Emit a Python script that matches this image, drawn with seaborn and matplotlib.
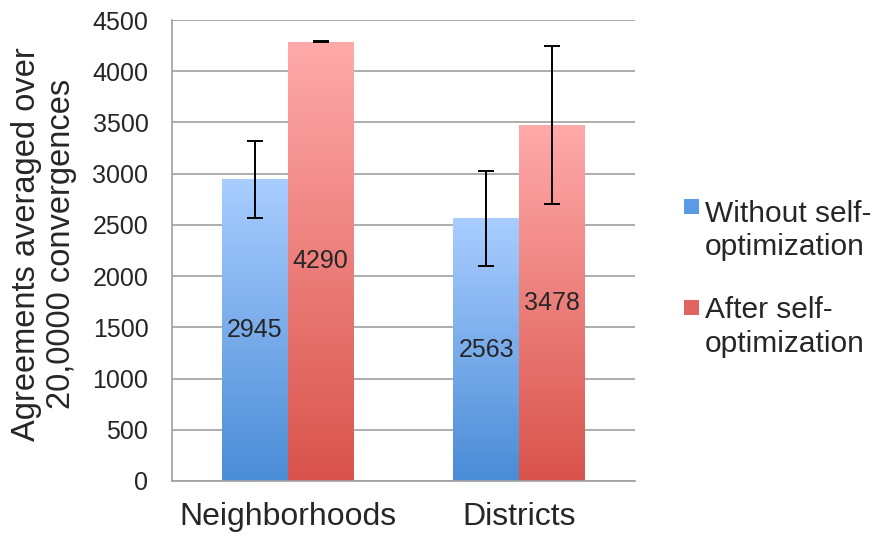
import matplotlib

matplotlib.use("Agg")
import matplotlib.pyplot as plt
import numpy as np
import pandas as pd
import seaborn as sns
from matplotlib.colors import LinearSegmentedColormap
from matplotlib.patches import Rectangle

# Chart data
categories = ["Neighborhoods", "Districts"]
series_names = ["Without self-\noptimization", "After self-\noptimization"]
without_vals = [2945, 2563]
after_vals = [4290, 3478]
without_err = [375, 463]
after_err = [3, 770]

# top (light) -> bottom (dark) colours for each series
grad_colors = [("#A9CDFF", "#4A8CD6"), ("#FFAAAA", "#D9534C")]
legend_colors = ["#5B9BE4", "#E26461"]

df = pd.DataFrame(
    {
        "category": categories * 2,
        "value": without_vals + after_vals,
        "series": [series_names[0]] * 2 + [series_names[1]] * 2,
    }
)

sns.set_style("white")
plt.rcParams["font.family"] = ["Liberation Sans", "DejaVu Sans"]

W, H = 883, 537
fig = plt.figure(figsize=(W / 100, H / 100), dpi=100)
ax = fig.add_axes([172 / W, 1 - 481 / H, 463 / W, 461 / H])

sns.barplot(
    data=df,
    x="category",
    y="value",
    hue="series",
    hue_order=series_names,
    palette=legend_colors,
    width=0.57,
    errorbar=None,
    legend=False,
    ax=ax,
)

ax.set_ylim(0, 4500)
ax.set_xlim(-0.5, 1.5)

# gradient fill inside each bar
grad = np.linspace(0, 1, 256).reshape(-1, 1)
for container, (top_c, bot_c) in zip(ax.containers, grad_colors):
    cmap = LinearSegmentedColormap.from_list("g", [bot_c, top_c])
    for bar in container:
        x0, y0 = bar.get_x(), bar.get_y()
        w, h = bar.get_width(), bar.get_height()
        img = ax.imshow(
            grad,
            extent=[x0, x0 + w, y0, y0 + h],
            origin="lower",
            aspect="auto",
            cmap=cmap,
            zorder=2,
        )
        img.set_clip_path(bar)
        bar.set_facecolor("none")
        bar.set_edgecolor("none")

# error bars
for container, errs in zip(ax.containers, [without_err, after_err]):
    xs = [b.get_x() + b.get_width() / 2 for b in container]
    ys = [b.get_height() for b in container]
    ax.errorbar(
        xs, ys, yerr=errs, fmt="none", ecolor="black",
        elinewidth=1.4, capsize=5.5, capthick=1.4, zorder=4,
    )

# value labels in the middle of the bars
for container, vals in zip(ax.containers, [without_vals, after_vals]):
    ax.bar_label(container, labels=[str(v) for v in vals],
                 label_type="center", fontsize=18, zorder=5)

# axes styling
ax.set_axisbelow(True)
ax.yaxis.grid(True, color="#A0A0A0", linewidth=1.2)
ax.set_yticks(np.arange(0, 4501, 500))
for side in ["top", "right"]:
    ax.spines[side].set_visible(False)
for side in ["left", "bottom"]:
    ax.spines[side].set_color("#A0A0A0")
    ax.spines[side].set_linewidth(1.2)

ax.tick_params(axis="y", direction="out", length=5, width=1.2,
               color="#A0A0A0", labelsize=18, pad=12)
ax.tick_params(axis="x", which="major", length=0, labelsize=23, pad=15)
ax.set_xticks([-0.5, 0.5, 1.5], minor=True)
ax.tick_params(axis="x", which="minor", direction="out", length=6,
               width=1.2, color="#A0A0A0")

ax.set_xlabel("")
ax.set_ylabel("Agreements averaged over\n20,0000 convergences",
              fontsize=23.5, linespacing=1.15, va="center")
ax.yaxis.set_label_coords((44 - 172) / 463, (481 - 244) / 461)

# legend: square swatch beside the first line of each two-line label
swatch_tops = [199, 300]
line_baselines = [(222, 255), (318, 352)]
for color, name, top, bases in zip(legend_colors, series_names,
                                   swatch_tops, line_baselines):
    fig.add_artist(Rectangle((684 / W, 1 - (top + 15) / H), 15 / W, 15 / H,
                             transform=fig.transFigure, facecolor=color,
                             edgecolor="none"))
    for line, base in zip(name.split("\n"), bases):
        fig.text(705 / W, 1 - base / H, line, fontsize=21.5,
                 ha="left", va="baseline")

fig.savefig("out.png", dpi=100)
